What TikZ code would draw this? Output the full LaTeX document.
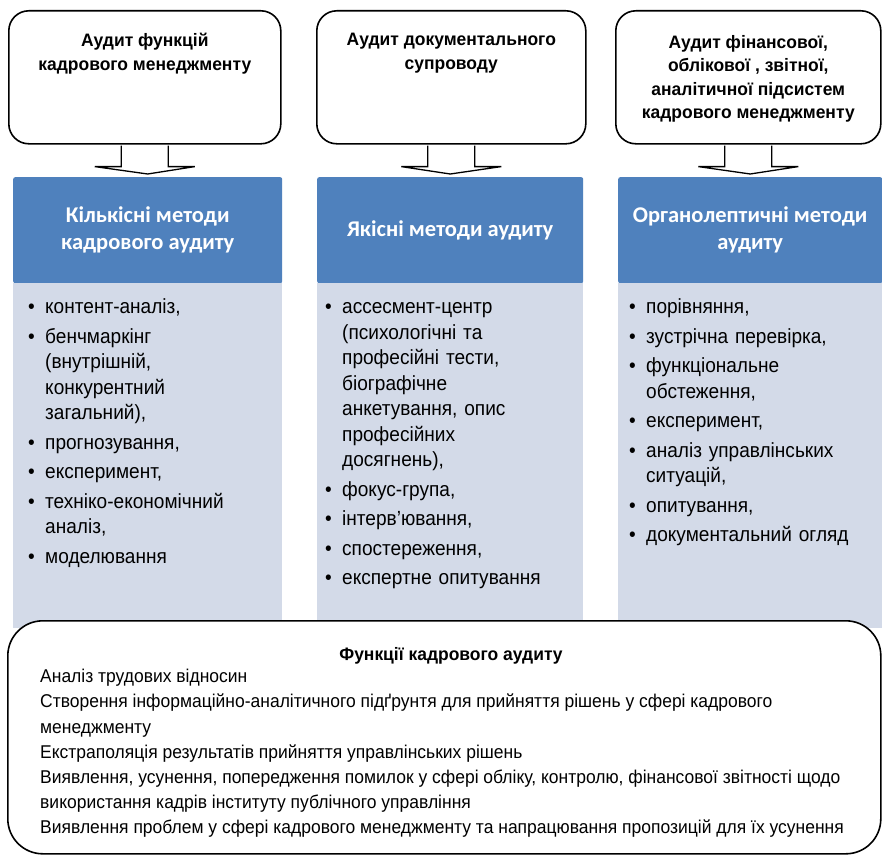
\documentclass[tikz,border=0pt]{standalone}
\usepackage{fontspec}
\setmainfont{Liberation Sans}
\newfontfamily\nfont[FakeStretch=0.93]{Liberation Sans}
\newfontfamily\tfont[FakeStretch=0.97]{Liberation Sans}
\newfontfamily\bfont[FakeStretch=0.945]{Liberation Sans}
\newfontfamily\hfont{Carlito}
\usetikzlibrary{calc}
\definecolor{hblue}{HTML}{4F81BD}
\definecolor{lbody}{HTML}{D3DAE8}
\newcommand{\itm}{\par\hangindent=17pt\hangafter=1\noindent\makebox[17pt][l]{\textbullet}}
\newcommand{\nl}{\hfil\break}
\begin{document}
\begin{tikzpicture}[x=1pt,y=-1pt,
  topbox/.style={draw=black, line width=1.6pt, rounded corners=20pt, fill=white, inner sep=0pt},
  toptext/.style={font=\tfont\bfseries\fontsize{18}{23.5}\selectfont, align=center, inner sep=0pt},
  header/.style={fill=hblue, rounded corners=2pt, inner sep=0pt, text=white, font=\hfont\bfseries\fontsize{22.5}{27}\selectfont, align=center},
  body/.style={fill=lbody, inner sep=0pt},
  blockarrow/.style={draw=black, line width=1.3pt, fill=white, line join=miter},
  listtext/.style={text width=262pt, inner sep=0pt, font=\nfont\fontsize{20.5}{25.5}\selectfont, execute at begin node={\setlength{\parskip}{4pt}}},
  botbox/.style={draw=black, line width=1.6pt, rounded corners=35pt, fill=white, inner sep=0pt}
]
\useasboundingbox (0,0) rectangle (882,856);
\fill[white] (0,0) rectangle (882,856);

% top boxes
\node[topbox, minimum width=272pt, minimum height=133pt, anchor=north west] (b1) at (8,10) {};
\node[topbox, minimum width=269pt, minimum height=133pt, anchor=north west] (b2) at (316,10) {};
\node[topbox, minimum width=265pt, minimum height=133pt, anchor=north west] (b3) at (615,10) {};
\node[toptext, anchor=north] (b1t) at ($(b1.north)+(0,23)$) {Аудит функцій\\кадрового менеджменту};
\node[toptext, anchor=north] (b2t) at ($(b2.north)+(0,23)$) {Аудит документального\\супроводу};
\node[toptext, anchor=north] (b3t) at ($(b3.north)+(0,25)$) {Аудит фінансової,\\облікової , звітної,\\аналітичної підсистем\\кадрового менеджменту};

% headers and bodies
\node[header, minimum width=269pt, minimum height=106pt, anchor=north west] (h1) at (13,177) {Кількісні методи\\кадрового аудиту};
\node[header, minimum width=266pt, minimum height=106pt, anchor=north west] (h2) at (317,177) {Якісні методи аудиту};
\node[header, minimum width=264pt, minimum height=106pt, anchor=north west] (h3) at (618,177) {Органолептичні методи\\аудиту};
\node[body, minimum width=269pt, minimum height=345pt, anchor=north west] (p1) at (13,283) {};
\node[body, minimum width=266pt, minimum height=345pt, anchor=north west] (p2) at (317,283) {};
\node[body, minimum width=264pt, minimum height=345pt, anchor=north west] (p3) at (618,283) {};

% block arrows
\foreach \b/\h in {b1/h1,b2/h2,b3/h3}{
  \draw[blockarrow] ($(\b.south)+(-23.5,1)$) -- ++(0,21) -- ++(-26.5,0)
     -- ($(\h.north)+(0,-3)$) -- ($(\b.south)+(50,22)$) -- ++(-26.5,0) -- ++(0,-21);
}

% lists
\node[listtext, anchor=north west] (l1) at (28,284) {%
\itm контент-аналіз,
\itm бенчмаркінг\nl(внутрішній,\nl конкурентний\nl загальний),
\itm прогнозування,
\itm експеримент,
\itm техніко-економічний\nl аналіз,
\itm моделювання\par};
\node[listtext, anchor=north west] (l2) at (325,284) {%
\itm ассесмент-центр\nl(психологічні та\nl професійні тести,\nl біографічне\nl анкетування, опис\nl професійних\nl досягнень),
\itm фокус-група,
\itm інтерв’ювання,
\itm спостереження,
\itm експертне опитування\par};
\node[listtext, anchor=north west] (l3) at (629,284) {%
\itm порівняння,
\itm зустрічна перевірка,
\itm функціональне\nl обстеження,
\itm експеримент,
\itm аналіз управлінських\nl ситуацій,
\itm опитування,
\itm документальний огляд\par};

% bottom box
\node[botbox, minimum width=873pt, minimum height=233pt, anchor=north west] (fb) at (7,620) {};
\node[font=\tfont\bfseries\fontsize{18}{20}\selectfont, inner sep=0pt] (ft) at (451,656) {Функції кадрового аудиту};
\node[anchor=north west, align=left, inner sep=0pt, font=\bfont\fontsize{18.5}{25.2}\selectfont] (fl) at (40,669) {Аналіз трудових відносин\\
Створення інформаційно-аналітичного підґрунтя для прийняття рішень у сфері кадрового\\
менеджменту\\
Екстраполяція результатів прийняття управлінських рішень\\
Виявлення, усунення, попередження помилок у сфері обліку, контролю, фінансової звітності щодо\\
використання кадрів інституту публічного управління\\
Виявлення проблем у сфері кадрового менеджменту та напрацювання пропозицій для їх усунення};
\end{tikzpicture}
\end{document}
